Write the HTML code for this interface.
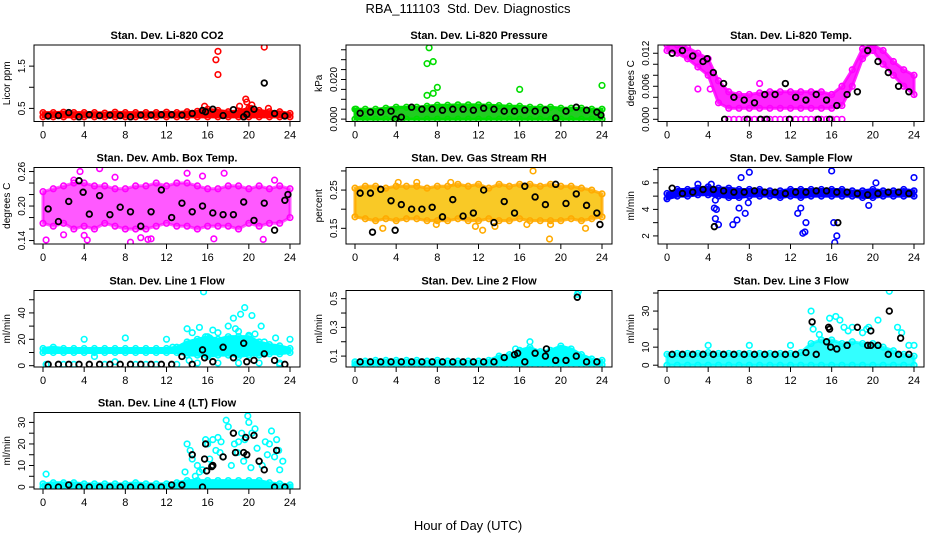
<!DOCTYPE html>
<html><head><meta charset="utf-8"><style>
html,body{margin:0;padding:0;background:#fff;}
svg{display:block;font-family:"Liberation Sans",sans-serif;}
</style></head><body>
<svg id="chart" width="936" height="540" viewBox="0 0 936 540">
<text x="468" y="13" text-anchor="middle" font-size="13">RBA_111103&#160; Std. Dev. Diagnostics</text>
<text x="468" y="530" text-anchor="middle" font-size="13">Hour of Day (UTC)</text>
</svg>
<script>
const HOURS=[0,1,2,3,4,5,6,7,8,9,10,11,12,13,14,15,16,17,18,19,20,21,22,23,24];
const HALF=[0.5,1.5,2.5,3.5,4.5,5.5,6.5,7.5,8.5,9.5,10.5,11.5,12.5,13.5,14.5,15.5,16.5,17.5,18.5,19.5,20.5,21.5,22.5,23.5];
const XTICKS=[0,4,8,12,16,20,24];

// Panel 1 CO2
const p1Lo=[0.30,0.30,0.30,0.30,0.30,0.30,0.30,0.30,0.30,0.30,0.30,0.30,0.30,0.30,0.30,0.30,0.30,0.30,0.30,0.30,0.30,0.30,0.30,0.30,0.30];
const p1Hi=[0.40,0.40,0.41,0.40,0.40,0.40,0.39,0.41,0.40,0.40,0.40,0.40,0.41,0.40,0.42,0.43,0.48,0.45,0.42,0.44,0.50,0.45,0.42,0.42,0.38];
const p1Sx=[16.8,17,17,19.7,19.8,20.3,20.2,21.5,19.1,21.9,15.7];
const p1Sy=[1.65,1.85,1.3,0.72,0.65,0.58,0.5,1.95,0.55,0.5,0.55];
const p1Bk=[0.32,0.33,0.40,0.30,0.35,0.33,0.34,0.33,0.30,0.34,0.34,0.35,0.35,0.34,0.38,0.45,0.48,0.33,0.47,0.30,0.48,1.1,0.38,0.32];
const p1Bx=[15.8,19.8],p1By=[0.42,0.36];
const p1Ticks=[0.5,1.0,1.5],p1Labels=["0.5","","1.5"];
// Panel 2 Pressure
const p2Lo=[0,0,0,0,0,0,0,0,0,0,0,0,0,0,0,0,0,0,0,0,0,0,0,0,0];
const p2Hi=[0.005,0.005,0.005,0.0055,0.006,0.006,0.006,0.0065,0.007,0.007,0.0072,0.0072,0.0072,0.007,0.0068,0.0065,0.0065,0.006,0.006,0.006,0.0055,0.0055,0.0055,0.005,0.005];
const p2Sx=[7.2,7.0,7.6,8.0,7.0,7.6,16,24,0.1];
const p2Sy=[0.036,0.028,0.029,0.016,0.012,0.013,0.015,0.017,0.005];
const p2Bk=[0.003,0.0035,0.0035,0.004,0.001,0.006,0.005,0.005,0.0045,0.005,0.005,0.0045,0.0055,0.005,0.004,0.004,0.0045,0.004,0.0045,0.0005,0.004,0.006,0.0045,0.0035];
const p2Bx=[3.9,23.9],p2By=[0,0.002];
const p2Ticks=[0,0.005,0.01,0.015,0.02,0.025,0.03,0.035],p2Labels=["0.000","","","","0.020","","",""];
// Panel 3 Temp
const p3Lo=[0.0125,0.012,0.011,0.0095,0.008,0.003,0.002,0.002,0.002,0.002,0.002,0.002,0.002,0.002,0.002,0.002,0.002,0.0025,0.006,0.011,0.0125,0.010,0.008,0.006,0.0045];
const p3Hi=[0.0135,0.0135,0.013,0.012,0.011,0.007,0.005,0.0045,0.0045,0.0048,0.005,0.005,0.005,0.005,0.005,0.005,0.0045,0.006,0.009,0.0128,0.0135,0.0125,0.0105,0.009,0.008];
const p3Sx=[6,6.5,7,7.5,8,8.5,9,9.5,10,10.5,11,11.5,12,12.5,13,13.5,14,14.5,15,15.5,16,16.5,17,3,4.2,9];
const p3Sy=[0,0,0,0,0,0,0,0,0,0,0,0,0,0,0,0,0,0,0,0,0,0,0,0.0055,0.0055,0.0065];
const p3Bk=[0.012,0.0125,0.0115,0.0105,0.0085,0.0065,0.004,0.0035,0.003,0.0045,0.0045,0.0065,0.004,0.0035,0.0045,0.0035,0.0025,0.0045,0.005,0.0125,0.0105,0.0085,0.006,0.005];
const p3Bx=[5.6,7.8,9.1,9.7,11.9,14.7,15.8,3.9],p3By=[0,0,0,0,0,0,0,0.011];
const p3Ticks=[0,0.002,0.004,0.006,0.008,0.01,0.012],p3Labels=["0.000","","","0.006","","","0.012"];
// Panel 4 Amb box temp
const p4Lo=[0.17,0.165,0.17,0.16,0.165,0.16,0.17,0.165,0.16,0.16,0.16,0.165,0.17,0.165,0.165,0.16,0.165,0.165,0.165,0.16,0.17,0.165,0.17,0.17,0.18];
const p4Hi=[0.225,0.23,0.235,0.24,0.24,0.235,0.235,0.23,0.23,0.235,0.235,0.24,0.235,0.24,0.24,0.235,0.23,0.23,0.235,0.235,0.23,0.235,0.23,0.235,0.23];
const p4Sx=[0.3,2.0,3.6,4.0,4.3,5.5,8.5,9.5,10.2,10.5,14.0,15.5,16.6,17.6,21.4,22.5,3.0,7.0];
const p4Sy=[0.141,0.15,0.26,0.149,0.141,0.265,0.137,0.145,0.142,0.143,0.257,0.252,0.143,0.257,0.142,0.245,0.245,0.25];
const p4Bk=[0.195,0.173,0.208,0.244,0.186,0.218,0.185,0.198,0.19,0.165,0.19,0.228,0.18,0.205,0.19,0.2,0.188,0.185,0.185,0.207,0.175,0.205,0.158,0.21];
const p4Bx=[3.9,23.8],p4By=[0.224,0.22];
const p4Ticks=[0.14,0.16,0.18,0.20,0.22,0.24,0.26],p4Labels=["0.14","","","0.20","","","0.26"];
// Panel 5 RH
const p5Lo=[0.18,0.175,0.17,0.175,0.17,0.175,0.175,0.17,0.17,0.17,0.175,0.17,0.17,0.175,0.17,0.17,0.175,0.17,0.17,0.17,0.17,0.175,0.17,0.175,0.18];
const p5Hi=[0.255,0.26,0.26,0.255,0.26,0.26,0.26,0.255,0.26,0.26,0.265,0.26,0.265,0.255,0.265,0.26,0.265,0.265,0.26,0.265,0.26,0.26,0.255,0.25,0.24];
const p5Sx=[4.2,6,9.3,11.7,12.4,13.6,17.3,18.9,19,22.4,2.7,7.9,16.7];
const p5Sy=[0.27,0.27,0.27,0.155,0.145,0.155,0.3,0.122,0.16,0.15,0.15,0.16,0.16];
const p5Bk=[0.242,0.242,0.252,0.222,0.212,0.2,0.2,0.205,0.18,0.225,0.182,0.19,0.25,0.165,0.22,0.19,0.26,0.232,0.212,0.265,0.215,0.24,0.21,0.19];
const p5Bx=[1.7,3.9,23.8],p5By=[0.14,0.145,0.16];
const p5Ticks=[0.15,0.20,0.25,0.30],p5Labels=["0.15","","0.25",""];
// Panel 6 Sample flow
const p6Lo=[4.8,5.0,5.0,5.1,5.1,5.0,4.9,4.9,5.0,5.0,5.0,4.9,5.0,4.9,5.0,5.0,5.0,5.0,5.0,4.9,4.9,5.0,5.0,5.0,5.0];
const p6Hi=[5.2,5.5,5.5,5.6,5.7,5.6,5.6,5.5,5.5,5.5,5.4,5.4,5.5,5.5,5.5,5.5,5.5,5.5,5.4,5.4,5.5,5.4,5.4,5.5,5.4];
const p6Sx=[4.6,4.7,4.8,5.0,6.4,6.8,7.0,7.2,7.6,8.0,4.3,12.7,13.0,13.2,13.4,13.5,16.0,16.2,16.3,16.5,19.6,20.3,24.0,3.0,4.7,7.9];
const p6Sy=[4.1,3.3,4.0,2.85,2.85,3.2,4.1,6.4,3.7,6.8,5.9,3.7,4.1,2.2,2.3,3.0,6.9,3.0,1.5,2.0,4.3,6.0,6.4,5.9,4.7,4.5];
const p6Bk=[5.6,5.2,5.3,5.5,5.5,5.4,5.3,5.3,5.4,5.3,5.3,5.2,5.3,5.3,5.4,5.4,5.3,5.3,5.2,5.1,5.2,5.3,5.3,5.2];
const p6Bx=[4.6,16.6],p6By=[2.7,3.0];
const p6Ticks=[2,3,4,5,6,7],p6Labels=["2","","4","","6",""];
// Panel 7 Line 1 flow
const p7Lo=[10,10,10,10,10,10,10,10,10,10,10,10,10,10,8,8,7,8,8,7,8,8,9,9,10];
const p7Hi=[13,14,13,13,13,13,13,13,13,13,13,13,13,14,18,20,22,20,22,22,22,18,16,15,13];
const p7Sx=[4,8,12,14,14.5,15.2,15.6,15.8,16.5,17,18,18.5,18.7,19.2,19.6,20,20.3,20.6,21.2,21.5,22.6,24,17.5,19.0,16.2,12.6,5,7,2,10,14.2,23,0.3,3,6,9,11,13,15,17,19,21,23];
const p7Sy=[20,21,20,28,25,29,56,22,27,25,30,36,28,39,44,23,38,24,30,18,21,20,19,26,21,14,7,3,1,1,4,1,1,1,1,1,1,1,2,2,2,2,2];
const p7Bk=[1,1,1,1,1,1,1,1,1,1,1,1,1,7,1,12,3,14,6,17,4,9,4,1];
const p7Bx=[15.7,19.8],p7By=[6,3];
const p7Ticks=[0,10,20,30,40,50],p7Labels=["0","","20","","40",""];
// Panel 8 Line 2 flow
const p8Lo=[0.04,0.04,0.04,0.04,0.04,0.04,0.04,0.04,0.04,0.04,0.04,0.04,0.04,0.04,0.04,0.04,0.04,0.04,0.04,0.04,0.04,0.04,0.04,0.04,0.04];
const p8Hi=[0.06,0.065,0.07,0.07,0.07,0.07,0.07,0.065,0.07,0.065,0.065,0.065,0.065,0.07,0.1,0.11,0.14,0.16,0.13,0.14,0.17,0.15,0.11,0.08,0.07];
const p8Sx=[15.6,17,21.6,21.7,0.1];
const p8Sy=[0.15,0.2,0.53,0.55,0.04];
const p8Bk=[0.06,0.06,0.06,0.06,0.06,0.06,0.06,0.06,0.06,0.06,0.06,0.06,0.06,0.06,0.09,0.11,0.06,0.12,0.1,0.07,0.07,0.1,0.06,0.06];
const p8Bx=[21.6,18.6,15.8],p8By=[0.51,0.15,0.12];
const p8Ticks=[0.1,0.2,0.3,0.4,0.5],p8Labels=["0.1","","0.3","","0.5"];
// Panel 9 Line 3 flow
const p9Lo=[0,0,0,0,0,0,0,0,0,0,0,0,0,0,0,0,0,0,0,0,0,0,0,0,0];
const p9Hi=[6,6.5,6.5,6.5,7,6.5,6.5,6.5,6.5,6.5,6.5,6.5,6.5,7,12,14,14,12,13,12,12,10,8,6,5];
const p9Sx=[4,8,12,14,14.2,15.8,16.4,16.8,17.2,18,19,19.6,20.5,21.6,22.4,22.8,23.5,24,14.8,17.6,19.4];
const p9Sy=[11,11,11,30,20,26,27,25,21,21,18,21,25,41,21,18,11,11,17,19,20];
const p9Bk=[6,6,6,6,6,6,6,6,6,6,6,6,6,7,6,13,9,11,21,11,11,6,6,6];
const p9Bx=[14.1,15.7,15.8,15.9,19.8,19.8,21.6,22.7],p9By=[24,21,20,10,19,11,30,15];
const p9Ticks=[0,10,20,30,40],p9Labels=["0","10","","30",""];
// Panel 10 Line 4 flow
const p10Lo=[0,0,0,0,0,0,0,0,0,0,0,0,0,0,0,0,0,0,0,0,0,0,0,0,0];
const p10Hi=[1.5,2,2,2,1.5,1.5,1.5,1.5,1.5,2,1.5,1.5,1.5,2,3,3,3,3,3,3,3,3,2,1.5,1];
const p10Sx=[0.3,14,14.3,14.5,15,15.5,15.8,16,16.2,16.5,16.8,17,17.3,17.5,17.8,18,18.3,18.6,19,19.3,19.6,19.9,20,20.3,20.6,20.8,21,21.3,21.6,22,22.2,22.5,22.7,23,23.3,13.8,15.2,17.2,18.9,20.2,21.8,19.5,16.4,14.8,22.9];
const p10Sy=[6,20,17,13,10,8,22,20,13,22,17,23,21,14,31,28,10,20,21,25,22,33,30,25,27,18,12,10,21,20,26,14,22,8,12,7,7,16,16,9,15,12,10,5,17];
const p10Bk=[0,0,1,0,0,0,0,0,0,0,0,0,1,1,15,0,10,14,25,16,24,8,0,0];
const p10Bx=[15.7,15.8,15.9,16.4,18.7,19.8,19.7,21,22.7],p10By=[13,20,7.5,9.5,16,15,23,12,17];
const p10Ticks=[0,5,10,15,20,25,30],p10Labels=["0","","10","","20","","30"];

const NS="http://www.w3.org/2000/svg";
const svg=document.getElementById('chart');
function mk(tag,attrs,parent){const e=document.createElementNS(NS,tag);for(const k in attrs)e.setAttribute(k,attrs[k]);(parent||svg).appendChild(e);return e;}

const panels=[
 {id:'co2',title:'Stan. Dev. Li-820 CO2',ylab:'Licor ppm',col:0,row:0,dom:[0.19,2.0],lo:p1Lo,hi:p1Hi,sx:p1Sx,sy:p1Sy,bk:p1Bk,bx:p1Bx,by:p1By,ticks:p1Ticks,labels:p1Labels,color:'#ff0000',fill:'#ff0000',op:1},
 {id:'pressure',title:'Stan. Dev. Li-820 Pressure',ylab:'kPa',col:1,row:0,dom:[-0.0012,0.0374],lo:p2Lo,hi:p2Hi,sx:p2Sx,sy:p2Sy,bk:p2Bk,bx:p2Bx,by:p2By,ticks:p2Ticks,labels:p2Labels,color:'#00dd00',fill:'#22cc22',op:1},
 {id:'temp',title:'Stan. Dev. Li-820 Temp.',ylab:'degrees C',col:2,row:0,dom:[-0.0004,0.0135],lo:p3Lo,hi:p3Hi,sx:p3Sx,sy:p3Sy,bk:p3Bk,bx:p3Bx,by:p3By,ticks:p3Ticks,labels:p3Labels,color:'#ff00ff',fill:'#ff00ff',op:0.85},
 {id:'amb-box-temp',title:'Stan. Dev. Amb. Box Temp.',ylab:'degrees C',col:0,row:1,dom:[0.134,0.267],lo:p4Lo,hi:p4Hi,sx:p4Sx,sy:p4Sy,bk:p4Bk,bx:p4Bx,by:p4By,ticks:p4Ticks,labels:p4Labels,color:'#ff00ff',fill:'#ff00ff',op:0.65},
 {id:'gas-stream-rh',title:'Stan. Dev. Gas Stream RH',ylab:'percent',col:1,row:1,dom:[0.109,0.309],lo:p5Lo,hi:p5Hi,sx:p5Sx,sy:p5Sy,bk:p5Bk,bx:p5Bx,by:p5By,ticks:p5Ticks,labels:p5Labels,color:'#ffaa00',fill:'#f8c000',op:0.85},
 {id:'sample-flow',title:'Stan. Dev. Sample Flow',ylab:'ml/min',col:2,row:1,dom:[1.39,7.16],lo:p6Lo,hi:p6Hi,sx:p6Sx,sy:p6Sy,bk:p6Bk,bx:p6Bx,by:p6By,ticks:p6Ticks,labels:p6Labels,color:'#0000ff',fill:'#0000ff',op:1},
 {id:'line1-flow',title:'Stan. Dev. Line 1 Flow',ylab:'ml/min',col:0,row:2,dom:[-1,57],lo:p7Lo,hi:p7Hi,sx:p7Sx,sy:p7Sy,bk:p7Bk,bx:p7Bx,by:p7By,ticks:p7Ticks,labels:p7Labels,color:'#00ffff',fill:'#00ffff',op:1},
 {id:'line2-flow',title:'Stan. Dev. Line 2 Flow',ylab:'ml/min',col:1,row:2,dom:[0.024,0.557],lo:p8Lo,hi:p8Hi,sx:p8Sx,sy:p8Sy,bk:p8Bk,bx:p8Bx,by:p8By,ticks:p8Ticks,labels:p8Labels,color:'#00ffff',fill:'#00ffff',op:1},
 {id:'line3-flow',title:'Stan. Dev. Line 3 Flow',ylab:'ml/min',col:2,row:2,dom:[-1,41.4],lo:p9Lo,hi:p9Hi,sx:p9Sx,sy:p9Sy,bk:p9Bk,bx:p9Bx,by:p9By,ticks:p9Ticks,labels:p9Labels,color:'#00ffff',fill:'#00ffff',op:0.8},
 {id:'line4-flow',title:'Stan. Dev. Line 4 (LT) Flow',ylab:'ml/min',col:0,row:3,dom:[-0.9,34.6],lo:p10Lo,hi:p10Hi,sx:p10Sx,sy:p10Sy,bk:p10Bk,bx:p10Bx,by:p10By,ticks:p10Ticks,labels:p10Labels,color:'#00ffff',fill:'#00ffff',op:1}
];
const COLS=[34,346,658],ROWS=[45,167.5,290.5,412.5],W=266,H=76.5;

panels.forEach(p=>{
  const L=COLS[p.col],T=ROWS[p.row],B=T+H;
  const g=mk('g',{});
  
  
  const xs=h=>L+9+h*247/24;
  const ys=v=>B-(v-p.dom[0])/(p.dom[1]-p.dom[0])*H;
  const clip=mk('clipPath',{id:'c-'+p.id},g);
  mk('rect',{x:L,y:T,width:W,height:H},clip);
  const plot=mk('g',{'clip-path':'url(#c-'+p.id+')'},g);
  let pts=HOURS.map((h,i)=>xs(h)+','+ys(p.hi[i]));
  pts=pts.concat(HOURS.slice().reverse().map((h,j)=>xs(h)+','+ys(p.lo[HOURS.length-1-j])));
  const band=mk('polygon',{points:pts.join(' '),fill:p.fill,'fill-opacity':p.op,stroke:p.color,'stroke-width':3,'stroke-opacity':p.op},plot);
  
  
  HOURS.forEach((h,i)=>{
    [p.lo[i],p.hi[i]].forEach(v=>{
      const c=mk('circle',{cx:xs(h),cy:ys(v),r:2.8,fill:'none',stroke:p.color,'stroke-width':1.6},plot);
      
      
    });
  });
  p.sx.forEach((h,i)=>{
    const c=mk('circle',{cx:xs(h),cy:ys(p.sy[i]),r:2.8,fill:'none',stroke:p.color,'stroke-width':1.6},plot);
    
    
  });
  HALF.forEach((h,i)=>{
    const c=mk('circle',{cx:xs(h),cy:ys(p.bk[i]),r:2.8,fill:'none',stroke:'#000','stroke-width':1.8},plot);
    
    
  });
  p.bx.forEach((h,i)=>{
    const c=mk('circle',{cx:xs(h),cy:ys(p.by[i]),r:2.8,fill:'none',stroke:'#000','stroke-width':1.8},plot);
    
    
  });
  const box=mk('rect',{x:L,y:T,width:W,height:H,fill:'none',stroke:'#000','stroke-width':1},g);
  
  
  const t=mk('text',{x:L+W/2,y:T-6,'text-anchor':'middle','font-size':11,'font-weight':'bold'},g);
  t.textContent=p.title;
  
  
  const yl=mk('text',{transform:'translate('+(L-24)+','+(T+H/2)+') rotate(-90)','text-anchor':'middle','font-size':10},g);
  yl.textContent=p.ylab;
  
  
  p.ticks.forEach((v,i)=>{
    const y=ys(v);
    mk('line',{x1:L-5,x2:L,y1:y,y2:y,stroke:'#000'},g);
    if(p.labels[i]){
      const tl=mk('text',{transform:'translate('+(L-9)+','+y+') rotate(-90)','text-anchor':'middle','font-size':10},g);
      tl.textContent=p.labels[i];
      
      
    }
  });
  XTICKS.forEach(h=>{
    const x=xs(h);
    mk('line',{x1:x,x2:x,y1:B,y2:B+5,stroke:'#000'},g);
    const tl=mk('text',{x:x,y:B+17,'text-anchor':'middle','font-size':11},g);
    tl.textContent=String(h);
    
    
  });
});
</script>
</body></html>
